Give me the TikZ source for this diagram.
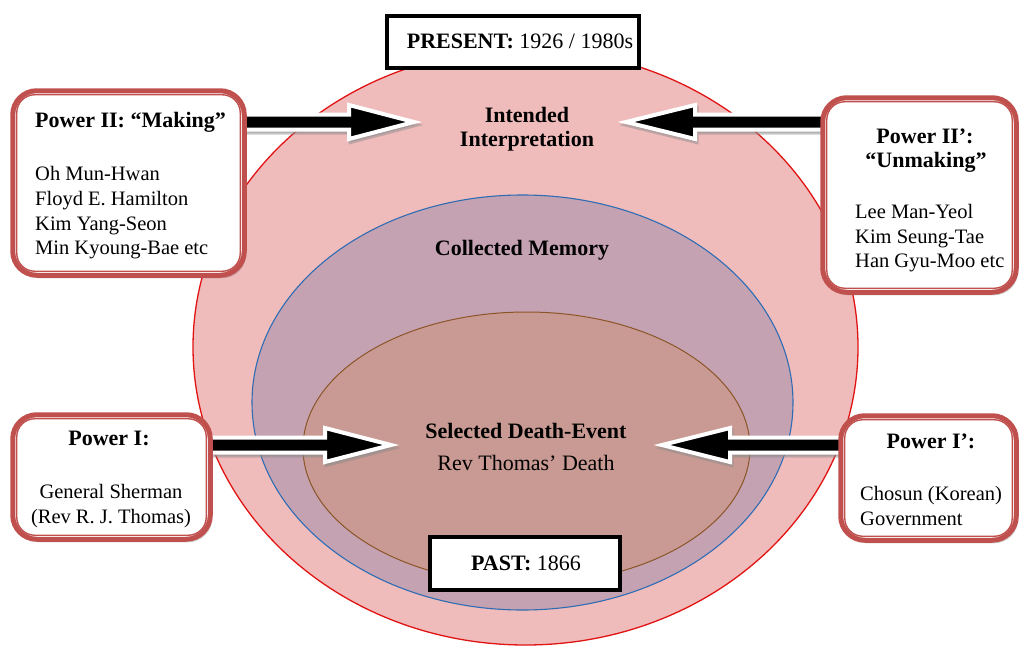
\documentclass[tikz,border=0pt]{standalone}
\usepackage{fontspec}
\setmainfont{Liberation Serif}
\usetikzlibrary{shadows}
\definecolor{outerfill}{RGB}{240,187,187}
\definecolor{outerline}{RGB}{225,20,20}
\definecolor{midfill}{RGB}{196,162,178}
\definecolor{midline}{RGB}{46,109,180}
\definecolor{innerfill}{RGB}{201,154,147}
\definecolor{innerline}{RGB}{140,85,40}
\definecolor{boxred}{RGB}{192,80,77}
\tikzset{
  listtext/.style={inner sep=0pt, font=\fontsize{20.5}{25}\selectfont},
  boldtext/.style={inner sep=0pt, font=\fontsize{22}{26}\selectfont\bfseries},
  labeltext/.style={inner sep=0pt, font=\fontsize{22}{26}\selectfont},
  powerbox/.style={draw=boxred, line width=5pt, rounded corners=24pt, fill=white, inner sep=0pt,
    drop shadow={shadow xshift=2pt, shadow yshift=-3pt, opacity=0.3, fill=black!60}},
  powerinner/.style={draw=boxred, line width=1.4pt, rounded corners=18pt},
  timebox/.style={draw=black, line width=4pt, fill=white, inner sep=0pt},
  arrowbody/.style={fill=black, draw=white, line width=4pt, line join=miter},
  arrowshade/.style={fill=black!45, draw=black!45, line width=4pt, line join=miter, opacity=0.5},
}
\newcommand\blockarrow[4]{%
  \begin{scope}[shift={(1.5,3)}]
  \draw[arrowshade] ({#1},{#4-7.5}) -- ({#2},{#4-7.5}) -- ({#2},{#4-17}) -- ({#3},{#4}) -- ({#2},{#4+17}) -- ({#2},{#4+7.5}) -- ({#1},{#4+7.5}) -- cycle;
  \end{scope}
  \draw[arrowbody] ({#1},{#4-7.5}) -- ({#2},{#4-7.5}) -- ({#2},{#4-17}) -- ({#3},{#4}) -- ({#2},{#4+17}) -- ({#2},{#4+7.5}) -- ({#1},{#4+7.5}) -- cycle;
}
\begin{document}
\begin{tikzpicture}[x=1pt,y=-1pt]
\useasboundingbox (0,0) rectangle (1021,648);
% nested ellipses
\draw[outerline, line width=1.3pt, fill=outerfill] (525.5,347) ellipse [x radius=332.5pt, y radius=298pt];
\draw[midline, line width=1.1pt, fill=midfill] (522.5,402.5) ellipse [x radius=270.5pt, y radius=207.5pt];
\draw[innerline, line width=1pt, fill=innerfill] (526.5,448) ellipse [x radius=223.5pt, y radius=136pt];
% block arrows
\blockarrow{240}{349}{414}{122}
\blockarrow{830}{695}{626}{122}
\blockarrow{205}{325}{391}{445}
\blockarrow{845}{730}{662}{445}
% power boxes
\node[powerbox, minimum width=231.5pt, minimum height=184.5pt] (p2) at (128.5,183) {};
\draw[powerinner] ([shift={(6.5,6.5)}]p2.north west) rectangle ([shift={(-6.5,-6.5)}]p2.south east);
\node[powerbox, minimum width=193.5pt, minimum height=194.5pt] (p2p) at (919.5,195) {};
\draw[powerinner] ([shift={(6.5,6.5)}]p2p.north west) rectangle ([shift={(-6.5,-6.5)}]p2p.south east);
\node[powerbox, minimum width=197.5pt, minimum height=124.5pt] (p1) at (111.5,477) {};
\draw[powerinner] ([shift={(6.5,6.5)}]p1.north west) rectangle ([shift={(-6.5,-6.5)}]p1.south east);
\node[powerbox, minimum width=175.5pt, minimum height=124.5pt] (p1p) at (928.5,478) {};
\draw[powerinner] ([shift={(6.5,6.5)}]p1p.north west) rectangle ([shift={(-6.5,-6.5)}]p1p.south east);
% time boxes
\node[timebox, minimum width=252pt, minimum height=52pt] (present) at (513,42) {};
\node[labeltext, anchor=base] (presentt) at (520,48) {\textbf{PRESENT:} 1926 / 1980s};
\node[timebox, minimum width=190pt, minimum height=53pt] (past) at (525,563.5) {};
\node[labeltext, anchor=base] (pastt) at (526,570) {\textbf{PAST:} 1866};
% center labels
\node[boldtext, anchor=base] (int1) at (527,122) {Intended};
\node[boldtext, anchor=base] (int2) at (527,146) {Interpretation};
\node[boldtext, anchor=base] (coll) at (522,255) {Collected Memory};
\node[boldtext, anchor=base] (sel1) at (526,438) {Selected Death-Event};
\node[labeltext, anchor=base] (sel2) at (526,470) {Rev Thomas’ Death};
% Power II
\node[boldtext, anchor=base west] (p2t) at (35,127) {Power II: “Making”};
\node[listtext, anchor=base west] (p2a) at (35,180) {Oh Mun-Hwan};
\node[listtext, anchor=base west] (p2b) at (35,205) {Floyd E. Hamilton};
\node[listtext, anchor=base west] (p2c) at (35,230) {Kim Yang-Seon};
\node[listtext, anchor=base west] (p2d) at (35,254) {Min Kyoung-Bae etc};
% Power II'
\node[boldtext, anchor=base] (p2pt) at (925,143) {Power II’:};
\node[boldtext, anchor=base] (p2pu) at (926,167) {“Unmaking”};
\node[listtext, anchor=base west] (p2pa) at (855,218) {Lee Man-Yeol};
\node[listtext, anchor=base west] (p2pb) at (855,243) {Kim Seung-Tae};
\node[listtext, anchor=base west] (p2pc) at (855,267) {Han Gyu-Moo etc};
% Power I
\node[boldtext, anchor=base] (p1t) at (109,445) {Power I:};
\node[listtext, anchor=base] (p1a) at (111,498) {General Sherman};
\node[listtext, anchor=base] (p1b) at (111,523) {(Rev R. J. Thomas)};
% Power I'
\node[boldtext, anchor=base] (p1pt) at (931,448) {Power I’:};
\node[listtext, anchor=base west] (p1pa) at (860,500) {Chosun (Korean)};
\node[listtext, anchor=base west] (p1pb) at (860,525) {Government};
\end{tikzpicture}
\end{document}
